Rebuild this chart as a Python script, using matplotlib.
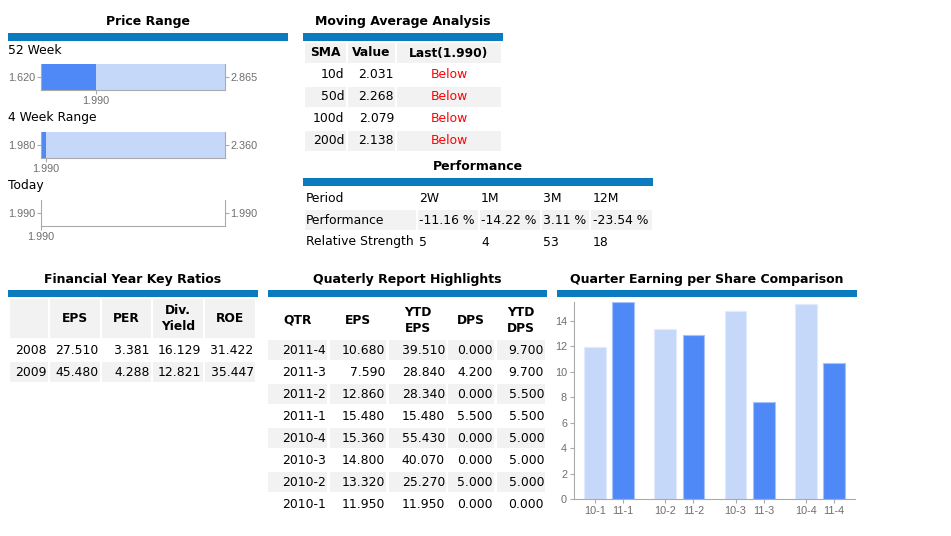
"""Stock summary dashboard: price ranges, moving averages, performance, ratios, quarterly EPS."""

import numpy as np
import matplotlib
matplotlib.use('Agg')
import matplotlib.pyplot as plt
from matplotlib.patches import Rectangle

W, H = 951, 536

RANGE_NAMES = ['52 Week', '4 Week Range', 'Today']
RANGE_LOW = [1.620, 1.980, 1.990]
RANGE_HIGH = [2.865, 2.360, 1.990]
RANGE_LAST = [1.990, 1.990, 1.990]

SMA_PERIODS = ['10d', '50d', '100d', '200d']
SMA_VALUES = [2.031, 2.268, 2.079, 2.138]
LAST_PRICE = 1.990

PERF_PERIODS = ['2W', '1M', '3M', '12M']
PERF_VALUES = [-11.16, -14.22, 3.11, -23.54]
REL_STRENGTH = [5, 4, 53, 18]

FY_YEARS = ['2008', '2009']
FY_EPS = [27.510, 45.480]
FY_PER = [3.381, 4.288]
FY_DIV_YIELD = [16.129, 12.821]
FY_ROE = [31.422, 35.447]

QTR_LABELS = ['2011-4', '2011-3', '2011-2', '2011-1', '2010-4', '2010-3', '2010-2', '2010-1']
QTR_EPS = [10.680, 7.590, 12.860, 15.480, 15.360, 14.800, 13.320, 11.950]
QTR_YTD_EPS = [39.510, 28.840, 28.340, 15.480, 55.430, 40.070, 25.270, 11.950]
QTR_DPS = [0.000, 4.200, 0.000, 5.500, 0.000, 0.000, 5.000, 0.000]
QTR_YTD_DPS = [9.700, 9.700, 5.500, 5.500, 5.000, 5.000, 5.000, 0.000]

BLUE = '#0b7abf'
CELL = '#f2f2f2'
DARK = '#4f89f7'
LIGHT = '#c6d8fa'
AXIS = '#aaaaaa'
TICK = '#6e6e6e'

TITLE_FS = 9
HEAD_FS = 8.8
BODY_FS = 8.9
SMALL_FS = 7.8
CHART_FONT = 'Liberation Sans'


def fig_rect(x0, y0, x1, y1):
    return [x0 / W, 1 - y1 / H, (x1 - x0) / W, (y1 - y0) / H]


def section(bg, title, cx, ty, x0, x1, by0, by1):
    bg.text(cx, ty, title, ha='center', va='center', fontsize=TITLE_FS, fontweight='bold')
    bg.add_patch(Rectangle((x0, by0), x1 - x0, by1 - by0, color=BLUE, lw=0))


def cell(bg, x0, x1, yc, h=20):
    bg.add_patch(Rectangle((x0, yc - h / 2), x1 - x0, h, color=CELL, lw=0))


def range_bar(fig, rect, low, high, last):
    ax = fig.add_axes(rect)
    span = high - low
    frac = (last - low) / span if span > 0 else 0.0
    if span > 0:
        ax.barh(0, 1, left=0, height=1, color=LIGHT, lw=0)
        ax.barh(0, frac, left=0, height=1, color=DARK, lw=0)
    ax.set_xlim(0, 1)
    ax.set_ylim(-0.5, 0.5)
    ax.spines['top'].set_visible(False)
    for s in ['left', 'right', 'bottom']:
        ax.spines[s].set_color(AXIS)
    ax.set_yticks([0])
    ax.set_yticklabels([f'{low:.3f}'])
    ax.set_xticks([frac])
    ax.set_xticklabels([f'{last:.3f}'])
    ax.tick_params(length=3, pad=1, color=AXIS, labelcolor=TICK, labelsize=SMALL_FS)
    for t in ax.get_xticklabels() + ax.get_yticklabels():
        t.set_fontfamily(CHART_FONT)
    ax2 = ax.twinx()
    ax2.set_ylim(-0.5, 0.5)
    ax2.set_yticks([0])
    ax2.set_yticklabels([f'{high:.3f}'])
    for s in ax2.spines.values():
        s.set_visible(False)
    ax2.tick_params(length=3, pad=1, color=AXIS, labelcolor=TICK, labelsize=SMALL_FS)
    for t in ax2.get_yticklabels():
        t.set_fontfamily(CHART_FONT)


def draw_price_range(fig, bg):
    section(bg, 'Price Range', 148, 22, 8, 288, 33, 40.5)
    for i, name in enumerate(RANGE_NAMES):
        y = 68 * i
        bg.text(8, 50 + y, name, ha='left', va='center', fontsize=BODY_FS)
        range_bar(fig, fig_rect(41, 64 + y, 225, 90 + y), RANGE_LOW[i], RANGE_HIGH[i], RANGE_LAST[i])


def draw_moving_average(bg):
    section(bg, 'Moving Average Analysis', 403, 22, 303, 503, 33, 40.5)
    cols = [(305, 346), (348, 395), (397, 501)]
    heads = ['SMA', 'Value', f'Last({LAST_PRICE:.3f})']
    for (x0, x1), txt in zip(cols, heads):
        cell(bg, x0, x1, 53)
        bg.text((x0 + x1) / 2, 53, txt, ha='center', va='center', fontsize=HEAD_FS, fontweight='bold')
    for k, (per, val) in enumerate(zip(SMA_PERIODS, SMA_VALUES)):
        yc = 75 + 22 * k
        if k % 2 == 1:
            for x0, x1 in cols:
                cell(bg, x0, x1, yc)
        status = 'Below' if LAST_PRICE < val else 'Above'
        bg.text(cols[0][1] - 2, yc, per, ha='right', va='center', fontsize=BODY_FS)
        bg.text(cols[1][1] - 1, yc, f'{val:.3f}', ha='right', va='center', fontsize=BODY_FS)
        bg.text((cols[2][0] + cols[2][1]) / 2, yc, status, ha='center', va='center',
                fontsize=BODY_FS, color='red')


def draw_performance(bg):
    section(bg, 'Performance', 478, 167, 303, 653, 178, 186)
    xs = [306, 419, 481, 543, 593]
    shade = [(305, 416), (418, 478), (480, 540), (542, 589), (591, 652)]
    rows = [['Period'] + PERF_PERIODS,
            ['Performance'] + [f'{v:.2f} %' for v in PERF_VALUES],
            ['Relative Strength'] + [str(v) for v in REL_STRENGTH]]
    for k, row in enumerate(rows):
        yc = 198 + 22 * k
        if k == 1:
            for x0, x1 in shade:
                cell(bg, x0, x1, yc)
        for x, txt in zip(xs, row):
            bg.text(x, yc, txt, ha='left', va='center', fontsize=BODY_FS)


def draw_key_ratios(bg):
    section(bg, 'Financial Year Key Ratios', 133, 279, 8, 258, 290, 297)
    cols = [(10, 48), (50, 100), (102, 151), (153, 203), (205, 255)]
    heads = ['', 'EPS', 'PER', 'Div.\nYield', 'ROE']
    for (x0, x1), txt in zip(cols, heads):
        cell(bg, x0, x1, 318.5, 39)
        bg.text((x0 + x1) / 2, 319, txt, ha='center', va='center', fontsize=HEAD_FS,
                fontweight='bold', linespacing=1.3)
    for k, yr in enumerate(FY_YEARS):
        yc = 350 + 22 * k
        if k % 2 == 1:
            for x0, x1 in cols:
                cell(bg, x0, x1, yc)
        vals = [yr, f'{FY_EPS[k]:.3f}', f'{FY_PER[k]:.3f}', f'{FY_DIV_YIELD[k]:.3f}', f'{FY_ROE[k]:.3f}']
        for (x0, x1), txt in zip(cols, vals):
            bg.text(x1 - 1.5, yc, txt, ha='right', va='center', fontsize=BODY_FS)


def draw_quarterly(bg):
    section(bg, 'Quaterly Report Highlights', 407, 279, 268, 547, 290, 297)
    cols = [(268, 327), (330, 386), (389, 446), (448, 494), (497, 545)]
    heads = ['QTR', 'EPS', 'YTD\nEPS', 'DPS', 'YTD\nDPS']
    for (x0, x1), txt in zip(cols, heads):
        bg.text((x0 + x1) / 2, 320, txt, ha='center', va='center', fontsize=HEAD_FS,
                fontweight='bold', linespacing=1.3)
    for k, q in enumerate(QTR_LABELS):
        yc = 350 + 22 * k
        if k % 2 == 0:
            for x0, x1 in cols:
                cell(bg, x0, x1, yc)
        vals = [q, f'{QTR_EPS[k]:.3f}', f'{QTR_YTD_EPS[k]:.3f}', f'{QTR_DPS[k]:.3f}', f'{QTR_YTD_DPS[k]:.3f}']
        for (x0, x1), txt in zip(cols, vals):
            bg.text(x1 - 1, yc, txt, ha='right', va='center', fontsize=BODY_FS)


def draw_eps_chart(fig, bg):
    section(bg, 'Quarter Earning per Share Comparison', 707, 279, 557, 857, 290, 297)
    eps = dict(zip(QTR_LABELS, QTR_EPS))
    quarters = ['1', '2', '3', '4']
    prev = [eps[f'2010-{q}'] for q in quarters]
    curr = [eps[f'2011-{q}'] for q in quarters]
    x = np.arange(len(quarters))
    ax = fig.add_axes(fig_rect(574, 302, 855, 499))
    ax.bar(x - 0.2, prev, width=0.31, color=LIGHT, edgecolor='#e2ebfd', lw=0.8)
    ax.bar(x + 0.2, curr, width=0.31, color=DARK, edgecolor='#a6c3fb', lw=0.8)
    ax.set_xlim(-0.5, len(quarters) - 0.5)
    ax.set_ylim(0, max(prev + curr))
    ax.set_yticks(np.arange(0, 15, 2))
    ticks = np.concatenate([x - 0.2, x + 0.2])
    labels = [f'10-{q}' for q in quarters] + [f'11-{q}' for q in quarters]
    ax.set_xticks(ticks)
    ax.set_xticklabels(labels)
    for s in ['top', 'right']:
        ax.spines[s].set_visible(False)
    for s in ['left', 'bottom']:
        ax.spines[s].set_color(AXIS)
    ax.tick_params(length=3, pad=2, color=AXIS, labelcolor=TICK, labelsize=SMALL_FS)
    for t in ax.get_xticklabels() + ax.get_yticklabels():
        t.set_fontfamily(CHART_FONT)


def main():
    plt.rcParams['font.family'] = ['DejaVu Sans']
    fig = plt.figure(figsize=(W / 100, H / 100), dpi=100)
    bg = fig.add_axes([0, 0, 1, 1])
    bg.set_xlim(0, W)
    bg.set_ylim(H, 0)
    bg.axis('off')

    draw_price_range(fig, bg)
    draw_moving_average(bg)
    draw_performance(bg)
    draw_key_ratios(bg)
    draw_quarterly(bg)
    draw_eps_chart(fig, bg)

    fig.savefig('out.png', dpi=100)
    plt.close(fig)


if __name__ == '__main__':
    main()
